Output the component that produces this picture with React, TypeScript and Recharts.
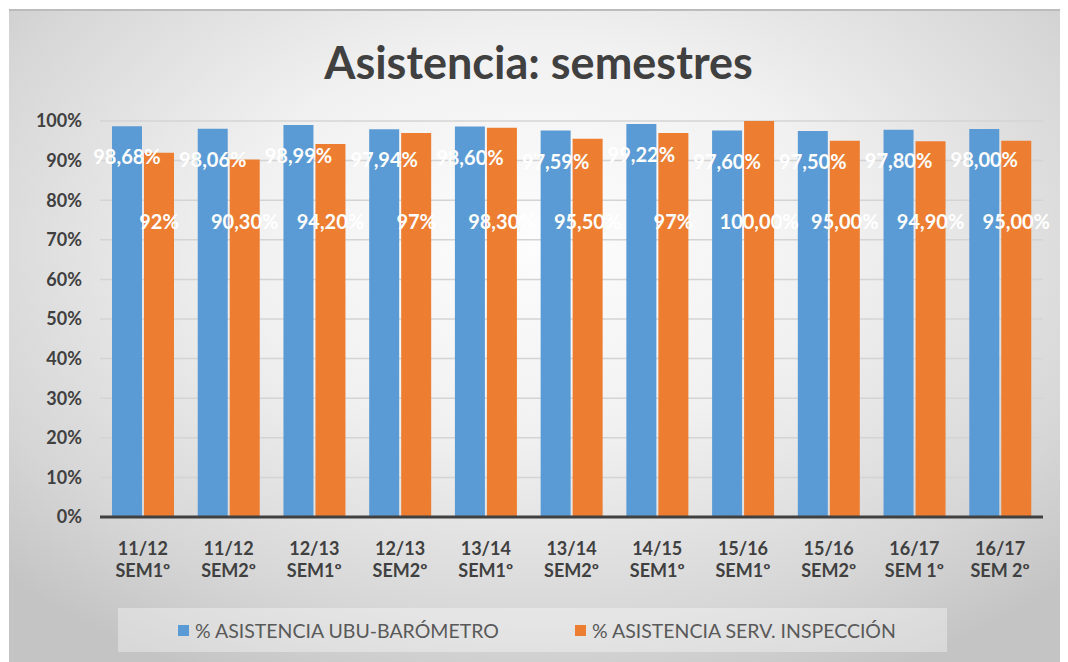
import React from "react";
import { BarChart, Bar, XAxis, YAxis, CartesianGrid, Legend, LabelList } from "recharts";

const categories = [
  "11/12 SEM1º",
  "11/12 SEM2º",
  "12/13 SEM1º",
  "12/13 SEM2º",
  "13/14 SEM1º",
  "13/14 SEM2º",
  "14/15 SEM1º",
  "15/16 SEM1º",
  "15/16 SEM2º",
  "16/17 SEM 1º",
  "16/17 SEM 2º",
];
const ubuValues = [98.68, 98.06, 98.99, 97.94, 98.6, 97.59, 99.22, 97.6, 97.5, 97.8, 98.0];
const inspValues = [92, 90.3, 94.2, 97, 98.3, 95.5, 97, 100, 95, 94.9, 95];
const ubuLabels = ["98,68%", "98,06%", "98,99%", "97,94%", "98,60%", "97,59%", "99,22%", "97,60%", "97,50%", "97,80%", "98,00%"];
const inspLabels = ["92%", "90,30%", "94,20%", "97%", "98,30%", "95,50%", "97%", "100,00%", "95,00%", "94,90%", "95,00%"];
const yTicks = [0, 10, 20, 30, 40, 50, 60, 70, 80, 90, 100];
const seriesNames = ["% ASISTENCIA UBU-BARÓMETRO", "% ASISTENCIA SERV. INSPECCIÓN"];
const seriesColors = ["#5b9bd5", "#ed7d31"];

const data = categories.map((c, i) => ({
  cat: c,
  ubu: ubuValues[i],
  insp: inspValues[i],
  ubuLbl: ubuLabels[i],
  inspLbl: inspLabels[i],
}));

const FONT = "Lato, 'Open Sans', sans-serif";

const CatTick = (props: any) => {
  const { x, y, payload } = props;
  const s: string = payload.value;
  const k = s.indexOf(" ");
  const l1 = s.slice(0, k);
  const l2 = s.slice(k + 1);
  return (
    <g>
      <text x={x} y={y + 38} textAnchor="middle" fill="#404040" fontFamily={FONT} fontWeight={700} fontSize={18}>
        {l1}
      </text>
      <text x={x} y={y + 60} textAnchor="middle" fill="#404040" fontFamily={FONT} fontWeight={700} fontSize={18}>
        {l2}
      </text>
    </g>
  );
};

const UbuLabel = (props: any) => {
  const { x, y, width, value } = props;
  return (
    <text x={x + width / 2} y={y + 30} textAnchor="middle" dominantBaseline="central" fill="#ffffff" fontFamily={FONT} fontWeight={700} fontSize={20}>
      {value}
    </text>
  );
};

const InspLabel = (props: any) => {
  const { x, y, width, height, value } = props;
  return (
    <text x={x + width / 2} y={y + height - 296} textAnchor="middle" dominantBaseline="central" fill="#ffffff" fontFamily={FONT} fontWeight={700} fontSize={20}>
      {value}
    </text>
  );
};

const LegendBox = () => (
  <div
    style={{
      width: 829,
      height: 44,
      background: "rgba(255,255,255,0.35)",
      display: "flex",
      alignItems: "center",
      fontFamily: FONT,
      fontSize: 19.5,
      color: "#595959",
      boxSizing: "border-box",
      paddingLeft: 60,
    }}
  >
    {seriesNames.map((n, i) => (
      <div key={n} style={{ display: "flex", alignItems: "center", width: i === 0 ? 397 : "auto" }}>
        <span style={{ display: "inline-block", width: 11, height: 11, background: seriesColors[i], marginRight: 6 }} />
        <span>{n}</span>
      </div>
    ))}
  </div>
);

export default function App() {
  return (
    <div
      style={{
        position: "relative",
        width: 1059,
        height: 653,
        marginLeft: 1,
        marginTop: 1,
        boxSizing: "border-box",
        borderTop: "2px solid #bcbcbc",
        background: "radial-gradient(ellipse 70% 75% at 50% 35%, #fdfdfd 0%, #f1f1f1 40%, #d6d6d6 80%, #c4c4c4 100%)",
      }}
    >
      <div
        style={{
          position: "absolute",
          left: 0,
          width: 1059,
          top: 25,
          textAlign: "center",
          fontFamily: FONT,
          fontWeight: 700,
          fontSize: 45,
          color: "#404040",
          lineHeight: "52px",
        }}
      >
        Asistencia: semestres
      </div>
      <div style={{ position: "absolute", left: 0, top: -2 }}>
        <BarChart
          width={1059}
          height={653}
          data={data}
          margin={{ top: 112, right: 25, left: 0, bottom: 85 }}
          barCategoryGap="14%"
          barGap={2}
        >
          <CartesianGrid vertical={false} stroke="#d4d4d4" strokeWidth={1.5} />
          <XAxis
            dataKey="cat"
            interval={0}
            height={60}
            tickLine={false}
            tickSize={0}
            tickMargin={0}
            axisLine={{ stroke: "#404040", strokeWidth: 3 }}
            tick={<CatTick />}
          />
          <XAxis dataKey="cat" xAxisId="lbl" hide />
          <YAxis
            width={91}
            domain={[0, 100]}
            ticks={yTicks}
            interval={0}
            tickFormatter={(v: number) => `${v}%`}
            axisLine={false}
            tickLine={false}
            tickSize={0}
            tickMargin={18}
            tick={{ fill: "#404040", fontFamily: FONT, fontWeight: 700, fontSize: 18 }}
          />
          <Bar xAxisId="lbl" dataKey="ubu" fill="none" legendType="none" isAnimationActive={false}>
            <LabelList dataKey="ubuLbl" content={<UbuLabel />} />
          </Bar>
          <Bar xAxisId="lbl" dataKey="insp" fill="none" legendType="none" isAnimationActive={false}>
            <LabelList dataKey="inspLbl" content={<InspLabel />} />
          </Bar>
          <Bar dataKey="ubu" name={seriesNames[0]} fill={seriesColors[0]} isAnimationActive={false} />
          <Bar dataKey="insp" name={seriesNames[1]} fill={seriesColors[1]} isAnimationActive={false} />
          <Legend
            layout="horizontal"
            verticalAlign="middle"
            align="center"
            wrapperStyle={{ top: 599, left: 109, width: 829, height: 44 }}
            content={<LegendBox />}
          />
        </BarChart>
      </div>
    </div>
  );
}
